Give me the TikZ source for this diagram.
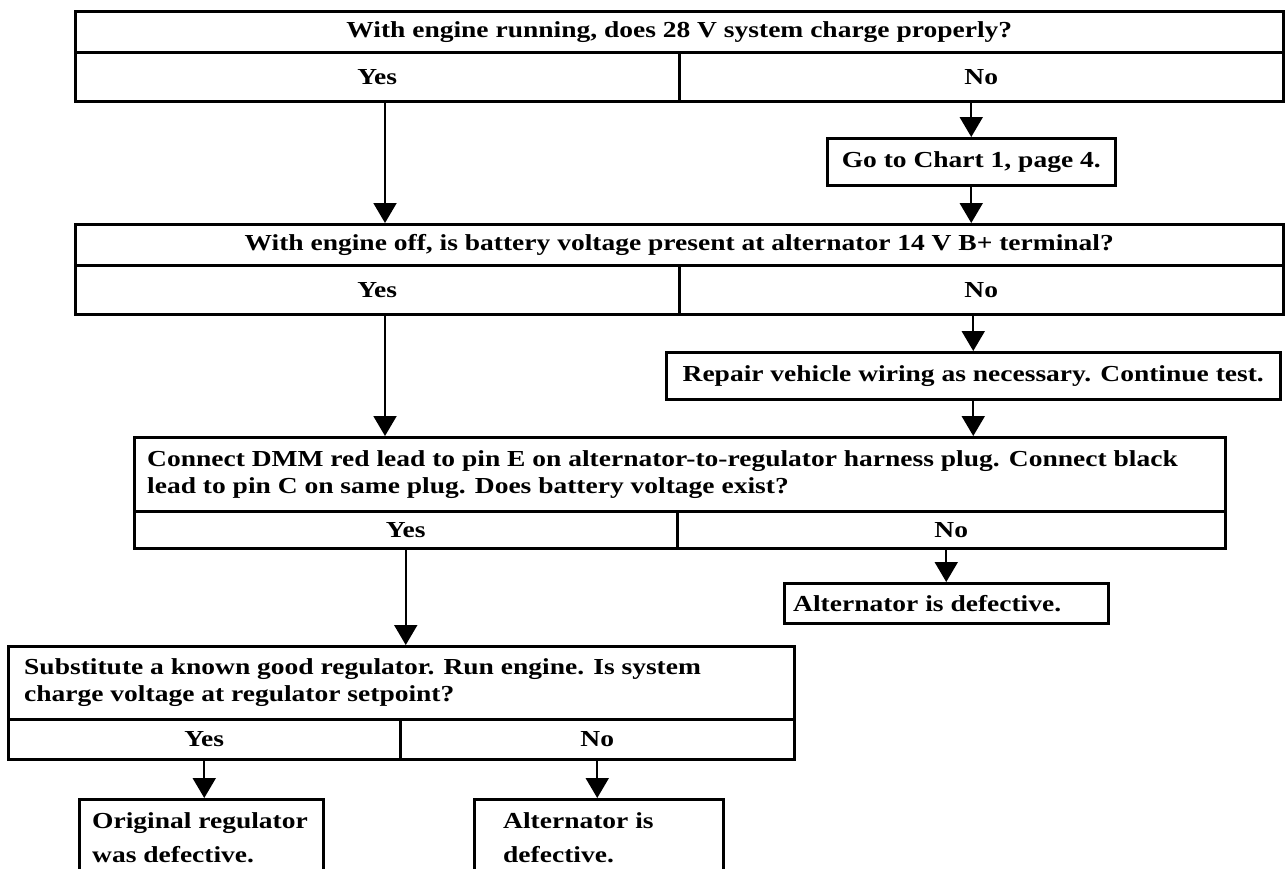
\documentclass[tikz,border=0pt]{standalone}
\usepackage{fontspec}
\setmainfont[FakeStretch=1.2]{Liberation Serif}
\usetikzlibrary{arrows.meta}
\begin{document}
\begin{tikzpicture}[x=1bp,y=-1bp,
  txt/.style={font=\bfseries\fontsize{23}{27}\selectfont, inner sep=0pt},
  cell/.style={draw, line width=2.5bp, inner sep=0pt, anchor=north west, txt},
  arr/.style={line width=2bp, -{Triangle[width=23bp,length=20bp]}},
]
\useasboundingbox (0,0) rectangle (1285,869);
\clip (0,0) rectangle (1285,869);

% ---- question 1
\node[cell, minimum width=1208bp, minimum height=41bp] (q1) at (74,10) {With engine running, does 28 V system charge properly?};
\node[cell, minimum width=604bp, minimum height=49bp] (y1) at (74,51) {Yes};
\node[cell, minimum width=604bp, minimum height=49bp] (n1) at (678,51) {No};
\node[cell, minimum width=288bp, minimum height=47bp] (g1) at (826,137) {Go to Chart 1, page 4.};

% ---- question 2
\node[cell, minimum width=1208bp, minimum height=41bp] (q2) at (74,223) {With engine off, is battery voltage present at alternator 14 V B+ terminal?};
\node[cell, minimum width=604bp, minimum height=49bp] (y2) at (74,264) {Yes};
\node[cell, minimum width=604bp, minimum height=49bp] (n2) at (678,264) {No};
\node[cell, minimum width=614bp, minimum height=47bp] (r2) at (665,351) {Repair vehicle wiring as necessary. Continue test.};

% ---- question 3
\node[cell, minimum width=1091bp, minimum height=74bp] (q3) at (133,436) {};
\node[txt, anchor=west, align=left] (t3) at ([xshift=14bp]q3.west) {Connect DMM red lead to pin E on alternator-to-regulator harness plug. Connect black\\lead to pin C on same plug. Does battery voltage exist?};
\node[cell, minimum width=543bp, minimum height=37bp] (y3) at (133,510) {Yes};
\node[cell, minimum width=548bp, minimum height=37bp] (n3) at (676,510) {No};
\node[cell, minimum width=324bp, minimum height=40bp] (a3) at (783,582) {};
\node[txt, anchor=west] (ta3) at ([xshift=10bp]a3.west) {Alternator is defective.};

% ---- question 4
\node[cell, minimum width=786bp, minimum height=73bp] (q4) at (7,645) {};
\node[txt, anchor=west, align=left] (t4) at ([xshift=17bp]q4.west) {Substitute a known good regulator. Run engine. Is system\\charge voltage at regulator setpoint?};
\node[cell, minimum width=392bp, minimum height=40bp] (y4) at (7,718) {Yes};
\node[cell, minimum width=394bp, minimum height=40bp] (n4) at (399,718) {No};

% ---- results (cut off at the bottom)
\node[cell, minimum width=244bp, minimum height=120bp] (b5) at (78,798) {};
\node[txt, anchor=north west, align=left, font=\bfseries\fontsize{23}{35}\selectfont] (t5) at (92,812) {Original regulator\\was defective.};
\node[cell, minimum width=249bp, minimum height=120bp] (b6) at (473,798) {};
\node[txt, anchor=north west, align=left, font=\bfseries\fontsize{23}{35}\selectfont] (t6) at (503,812) {Alternator is\\defective.};

% ---- connectors
\coordinate (xa) at (385,0);
\draw[arr] (y1.south -| xa) -- (q2.north -| xa);
\draw[arr] (n1.south -| g1.north) -- (g1.north);
\draw[arr] (g1.south) -- (q2.north -| g1.south);
\draw[arr] (y2.south -| xa) -- (q3.north -| xa);
\draw[arr] (n2.south -| r2.north) -- (r2.north);
\draw[arr] (r2.south) -- (q3.north -| r2.south);
\draw[arr] (y3.south) -- (q4.north -| y3.south);
\draw[arr] (n3.south -| a3.north) -- (a3.north);
\draw[arr] (y4.south) -- (b5.north -| y4.south);
\draw[arr] (n4.south) -- (b6.north -| n4.south);
\end{tikzpicture}
\end{document}
